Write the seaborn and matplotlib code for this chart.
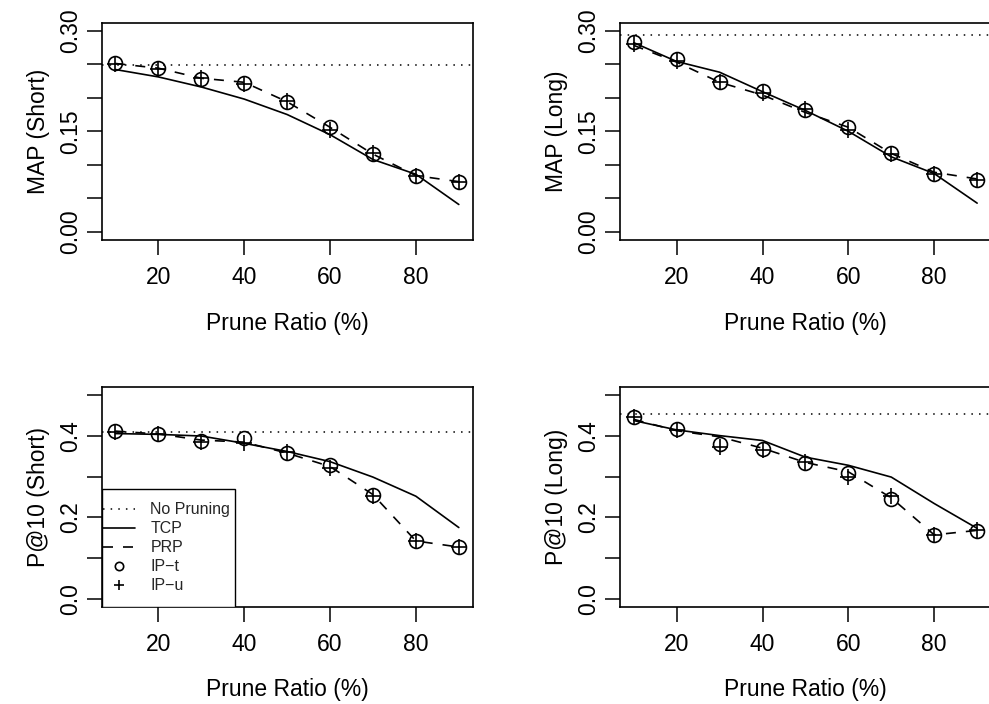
import matplotlib
matplotlib.use('Agg')
import matplotlib.pyplot as plt
from matplotlib.patches import Rectangle
import seaborn as sns
import pandas as pd

# Prune ratio (%) on the x axis
ratios = [10, 20, 30, 40, 50, 60, 70, 80, 90]

# MAP (Short)
noprune_ms = 0.249
tcp_ms = [0.242, 0.231, 0.216, 0.198, 0.175, 0.145, 0.108, 0.086, 0.041]
prp_ms = [0.251, 0.244, 0.229, 0.223, 0.194, 0.156, 0.116, 0.084, 0.075]
ipt_ms = [0.251, 0.244, 0.228, 0.222, 0.193, 0.157, 0.116, 0.084, 0.075]
ipu_ms = [0.250, 0.243, 0.229, 0.221, 0.195, 0.152, 0.117, 0.083, 0.075]

# MAP (Long)
noprune_ml = 0.294
tcp_ml = [0.282, 0.254, 0.238, 0.209, 0.181, 0.150, 0.112, 0.087, 0.043]
prp_ml = [0.278, 0.253, 0.223, 0.204, 0.178, 0.156, 0.117, 0.089, 0.079]
ipt_ml = [0.283, 0.257, 0.224, 0.210, 0.181, 0.157, 0.118, 0.087, 0.077]
ipu_ml = [0.280, 0.255, 0.224, 0.207, 0.183, 0.152, 0.116, 0.086, 0.077]

# P@10 (Short)
noprune_ps = 0.411
tcp_ps = [0.406, 0.404, 0.400, 0.382, 0.362, 0.337, 0.299, 0.252, 0.175]
prp_ps = [0.412, 0.405, 0.390, 0.385, 0.358, 0.325, 0.256, 0.142, 0.127]
ipt_ps = [0.413, 0.406, 0.387, 0.394, 0.359, 0.328, 0.256, 0.142, 0.126]
ipu_ps = [0.411, 0.404, 0.385, 0.382, 0.360, 0.322, 0.253, 0.143, 0.127]

# P@10 (Long)
noprune_pl = 0.454
tcp_pl = [0.438, 0.415, 0.401, 0.389, 0.348, 0.328, 0.299, 0.234, 0.173]
prp_pl = [0.441, 0.413, 0.398, 0.370, 0.335, 0.312, 0.248, 0.157, 0.168]
ipt_pl = [0.446, 0.417, 0.380, 0.368, 0.333, 0.309, 0.246, 0.157, 0.167]
ipu_pl = [0.447, 0.414, 0.374, 0.366, 0.335, 0.299, 0.252, 0.157, 0.170]

sns.set_theme(style='white')
plt.rcParams['font.family'] = ['Liberation Sans', 'DejaVu Sans']

fig = plt.figure(figsize=(9.89, 7.04), dpi=100)

# panel boxes in figure fractions (left, bottom, width, height)
boxes = [
    [0.1028, 0.659, 0.375, 0.309],
    [0.6269, 0.659, 0.375, 0.309],
    [0.1028, 0.138, 0.375, 0.312],
    [0.6269, 0.138, 0.375, 0.312],
]

panels = [
    ('MAP (Short)', noprune_ms, tcp_ms, prp_ms, ipt_ms, ipu_ms, 0.3, 0.05, [0.0, 0.15, 0.3], '{:.2f}'),
    ('MAP (Long)', noprune_ml, tcp_ml, prp_ml, ipt_ml, ipu_ml, 0.3, 0.05, [0.0, 0.15, 0.3], '{:.2f}'),
    ('P@10 (Short)', noprune_ps, tcp_ps, prp_ps, ipt_ps, ipu_ps, 0.5, 0.1, [0.0, 0.2, 0.4], '{:.1f}'),
    ('P@10 (Long)', noprune_pl, tcp_pl, prp_pl, ipt_pl, ipu_pl, 0.5, 0.1, [0.0, 0.2, 0.4], '{:.1f}'),
]

for i, (ylab, nop, tcp, prp, ipt, ipu, ymax, step, shown, fmt) in enumerate(panels):
    ax = fig.add_axes(boxes[i])
    df = pd.DataFrame({'ratio': ratios, 'tcp': tcp, 'prp': prp, 'ipt': ipt, 'ipu': ipu})

    # baseline runs across the whole panel, like abline(h=...)
    ax.axhline(nop, color='black', lw=1.1, linestyle=(0, (1, 4)), label='No Pruning')
    sns.lineplot(data=df, x='ratio', y='tcp', ax=ax, color='black', lw=1.2, label='TCP')
    sns.lineplot(data=df, x='ratio', y='prp', ax=ax, color='black', lw=1.2,
                 linestyle=(0, (6, 6)), label='PRP')
    sns.lineplot(data=df, x='ratio', y='ipt', ax=ax, color='black', linestyle='',
                 marker='o', markersize=10, markerfacecolor='none',
                 markeredgecolor='black', markeredgewidth=1.2, label='IP\u2212t')
    sns.lineplot(data=df, x='ratio', y='ipu', ax=ax, color='black', linestyle='',
                 marker='+', markersize=12, markeredgecolor='black',
                 markeredgewidth=1.2, label='IP\u2212u')

    leg = ax.get_legend()
    if leg is not None:
        leg.remove()

    ax.set_xlim(10 - 3.2, 90 + 3.2)
    ax.set_ylim(-0.04 * ymax, ymax * 1.04)
    ax.set_xticks([20, 40, 60, 80])
    ax.set_xticklabels(['20', '40', '60', '80'])
    nt = int(round(ymax / step))
    yt = [round(k * step, 2) for k in range(nt + 1)]
    ax.set_yticks(yt)
    ax.set_yticklabels([fmt.format(v) if any(abs(v - s) < 1e-9 for s in shown) else '' for v in yt],
                       rotation=90, va='center')

    ax.tick_params(axis='both', direction='out', length=11, width=1.1, labelsize=16.5,
                   color='black', labelcolor='black')
    ax.tick_params(axis='x', bottom=True, pad=8)
    ax.tick_params(axis='y', left=True, pad=3)
    for sp in ax.spines.values():
        sp.set_visible(True)
        sp.set_color('black')
        sp.set_linewidth(1.2)

    ax.set_xlabel('Prune Ratio (%)', fontsize=16.5, color='black', labelpad=16)
    ax.set_ylabel(ylab, fontsize=16.5, color='black', labelpad=7)

    if i == 2:
        ax.add_patch(Rectangle((0, 0), 0.3585, 0.5353, transform=ax.transAxes,
                               facecolor='white', edgecolor='black', lw=1.0, zorder=4))
        lg = ax.legend(loc='lower left', bbox_to_anchor=(0.004, 0.062), borderaxespad=0,
                       borderpad=0, fontsize=11.5, frameon=False, handlelength=2.0,
                       labelspacing=0.25, handletextpad=0.95, markerscale=0.6)
        lg.set_zorder(5)

fig.savefig('out.png', dpi=100)
